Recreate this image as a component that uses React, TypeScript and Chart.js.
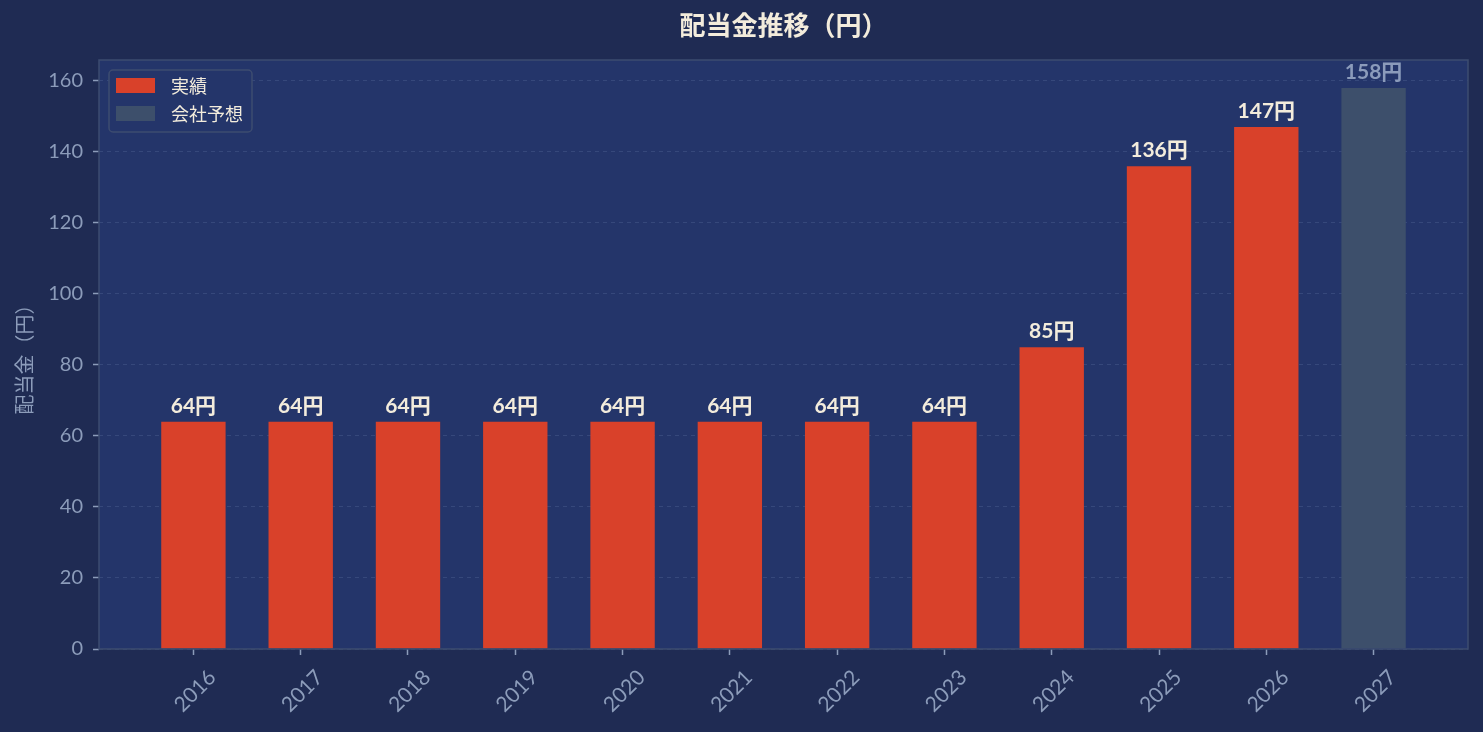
import { useEffect, useRef } from 'react'
import { Chart, registerables } from 'chart.js'

Chart.register(...registerables)

const years = ['2016', '2017', '2018', '2019', '2020', '2021', '2022', '2023', '2024', '2025', '2026', '2027']
const actualDividends = [64, 64, 64, 64, 64, 64, 64, 64, 85, 136, 147]
const forecastDividends = [158]
const yTicks = [0, 20, 40, 60, 80, 100, 120, 140, 160]
const yMax = 165.9

const FONT = '"Lato", "Noto Sans CJK JP", sans-serif'
const CJK = '"Noto Sans CJK JP", "Noto Sans", sans-serif'
const BG = '#1f2b53'
const PLOT_BG = '#24356a'
const FRAME = '#3d4c70'
const MUTED = '#8c9cba'
const CREAM = '#f3ecdc'
const RED = '#d9412a'
const SLATE = '#3d4f6b'
const valueColors = [CREAM, '#8b9bbb']

const decorations = {
  id: 'decorations',
  beforeDraw(chart: any) {
    const { ctx, chartArea: a, width, height } = chart
    ctx.save()
    ctx.fillStyle = BG
    ctx.fillRect(0, 0, width, height)
    ctx.fillStyle = PLOT_BG
    ctx.fillRect(a.left, a.top, a.right - a.left, a.bottom - a.top)
    ctx.restore()
  },
  afterDatasetsDraw(chart: any) {
    const { ctx, chartArea: a } = chart
    ctx.save()
    // frame round the plot
    ctx.strokeStyle = FRAME
    ctx.lineWidth = 1.5
    ctx.strokeRect(a.left, a.top, a.right - a.left, a.bottom - a.top)

    // value labels on top of bars
    ctx.font = `bold 21px ${FONT}`
    ctx.textAlign = 'center'
    ctx.textBaseline = 'alphabetic'
    chart.data.datasets.forEach((ds: any, di: number) => {
      const meta = chart.getDatasetMeta(di)
      ctx.fillStyle = valueColors[di]
      meta.data.forEach((bar: any, i: number) => {
        ctx.fillText(`${ds.data[i].y}円`, bar.x, bar.y - 9)
      })
    })

    // legend box in the upper left corner
    const lx = a.left + 10
    const ly = a.top + 10
    ctx.beginPath()
    ctx.roundRect(lx, ly, 143, 62, 4)
    ctx.fillStyle = PLOT_BG
    ctx.fill()
    ctx.strokeStyle = FRAME
    ctx.lineWidth = 1.5
    ctx.stroke()
    ctx.font = `18px ${CJK}`
    ctx.textAlign = 'left'
    ctx.textBaseline = 'middle'
    chart.data.datasets.forEach((ds: any, di: number) => {
      const sy = ly + 8 + di * 28
      ctx.fillStyle = ds.backgroundColor
      ctx.fillRect(lx + 7, sy, 39, 15)
      ctx.fillStyle = CREAM
      ctx.fillText(ds.label, lx + 62, sy + 8)
    })
    ctx.restore()
  },
}

export default function App() {
  const canvasRef = useRef<HTMLCanvasElement>(null)

  useEffect(() => {
    if (!canvasRef.current) return
    const chart = new Chart(canvasRef.current, {
      type: 'bar',
      data: {
        datasets: [
          {
            label: '実績',
            data: actualDividends.map((v, i) => ({ x: i, y: v })),
            backgroundColor: RED,
            grouped: false,
            categoryPercentage: 1,
            barPercentage: 0.6,
          },
          {
            label: '会社予想',
            data: forecastDividends.map((v, i) => ({ x: actualDividends.length + i, y: v })),
            backgroundColor: SLATE,
            grouped: false,
            categoryPercentage: 1,
            barPercentage: 0.6,
          },
        ] as any,
      },
      options: {
        animation: false,
        responsive: true,
        maintainAspectRatio: false,
        layout: { padding: { top: 0, right: 15, bottom: 0, left: 0 } },
        plugins: {
          legend: { display: false },
          tooltip: { enabled: false },
          title: {
            display: true,
            fullSize: false,
            text: '配当金推移（円）',
            color: CREAM,
            font: { family: CJK, size: 26, weight: 'bold' },
            padding: { top: 9.4, bottom: 19.4 },
          },
        },
        scales: {
          x: {
            type: 'linear',
            min: -0.88,
            max: 11.88,
            offset: false,
            afterBuildTicks: (axis: any) => {
              axis.ticks = years.map((_, i) => ({ value: i }))
            },
            afterFit: (scale: any) => {
              scale.height = 83
            },
            ticks: {
              autoSkip: false,
              maxRotation: 45,
              minRotation: 45,
              labelOffset: 19,
              padding: 10,
              color: MUTED,
              font: { family: FONT, size: 21 },
              callback: (value: any) => years[value] ?? '',
            },
            grid: {
              offset: false,
              drawOnChartArea: false,
              drawTicks: true,
              tickLength: 6,
              tickColor: MUTED,
              tickWidth: 1.5,
            },
            border: { display: false },
          },
          y: {
            min: 0,
            max: yMax,
            afterBuildTicks: (axis: any) => {
              axis.ticks = yTicks.map((v) => ({ value: v }))
            },
            afterFit: (scale: any) => {
              scale.width = 99
            },
            ticks: {
              padding: 10,
              color: MUTED,
              font: { family: FONT, size: 20 },
            },
            grid: {
              color: 'rgba(120, 140, 185, 0.22)',
              lineWidth: 1,
              tickLength: 6,
              tickColor: MUTED,
              tickWidth: 1.5,
            },
            border: { display: false, dash: [4, 4] },
            title: {
              display: true,
              text: '配当金（円）',
              color: MUTED,
              font: { family: CJK, size: 20 },
              padding: { top: 12, bottom: 0 },
            },
          },
        },
      },
      plugins: [decorations],
    })
    return () => chart.destroy()
  }, [])

  return (
    <div style={{ position: 'fixed', left: 0, top: 0, width: 1483, height: 732, background: BG }}>
      <canvas ref={canvasRef} />
    </div>
  )
}
